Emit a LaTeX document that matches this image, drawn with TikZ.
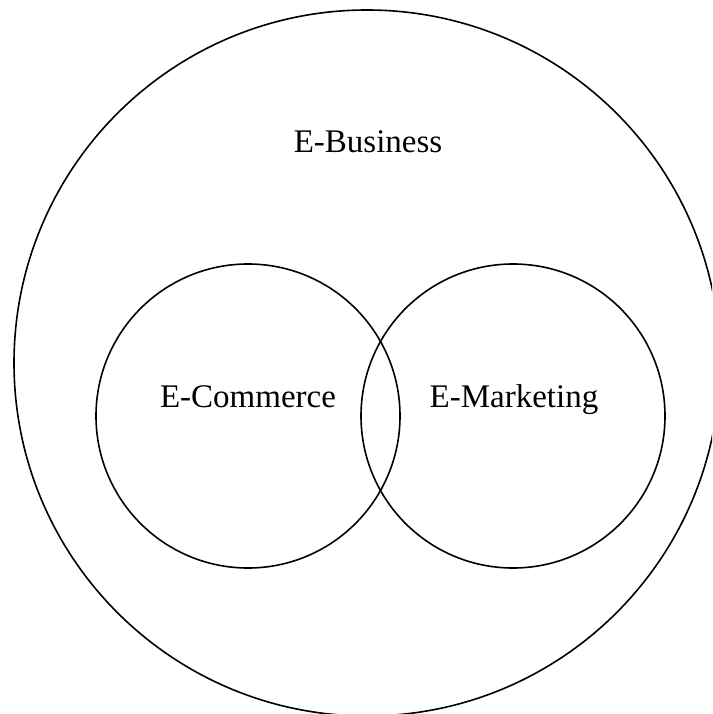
\documentclass[tikz,border=0pt]{standalone}
\usepackage{fontspec}
\setmainfont{Liberation Serif}
\begin{document}
\begin{tikzpicture}[x=1pt,y=-1pt,
  ring/.style={circle, draw=black, line width=1.6pt, inner sep=0pt},
  lbl/.style={font=\fontsize{33}{36}\selectfont, anchor=base, inner sep=0pt}]
\useasboundingbox (0,0) rectangle (712,714);
\clip (0,0) rectangle (712,714);
\node[ring, minimum size=706pt] (ebus) at (367,363) {};
\node[ring, minimum size=304pt] (ecom) at (248,416) {};
\node[ring, minimum size=304pt] (emar) at (513,416) {};
\node[lbl] (tbus) at (368,153) {E-Business};
\node[lbl] (tcom) at (248,407) {E-Commerce};
\node[lbl] (tmar) at (514,407) {E-Marketing};
\end{tikzpicture}
\end{document}
